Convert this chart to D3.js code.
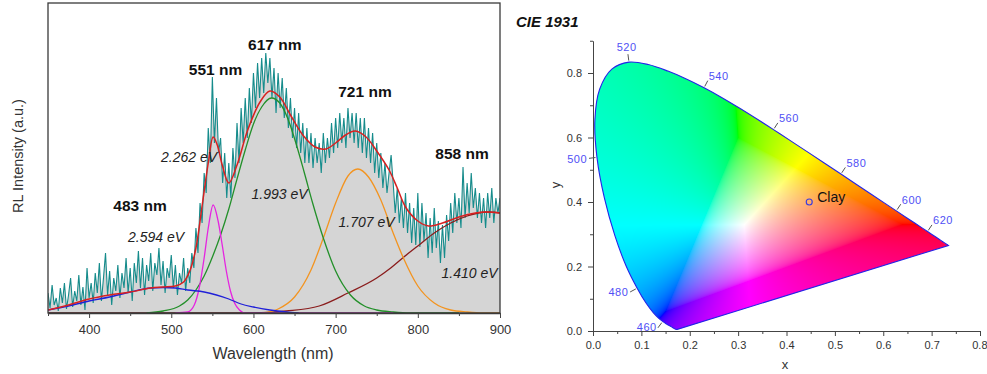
<!DOCTYPE html>
<html><head><meta charset="utf-8">
<script src="https://cdn.jsdelivr.net/npm/d3@7"></script>
<style>body{margin:0;background:#fff}svg{display:block}</style>
</head><body>
<script>
// ---------- DATA: RL spectrum ----------
const specStart = 350, specStep = 2.5;   // nm grid of the measured spectrum
const rlCounts = [
 20,5,28,8, 15,2,25,10, 30,4,18,35, 6,22,12,38, 8,26,3,45,
 15,30,10,40, 20,50,12,35, 60,18,42,8, 35,22,48,15, 40,25,55,20,
 45,12,50,30, 62,25,55,18, 48,32,60,22, 50,38,65,28, 52,20,45,35,
 58,25,48,18, 40,30,55,22, 45,30,60,45, 85,60,110,90, 140,120,185,150,
 236,170,215,160, 175,130,160,115, 150,115,165,135, 190,150,205,170, 215,175,225,190,
 240,205,250,215, 255,220,260,230, 255,215,245,200, 240,205,235,195, 225,185,215,175,
 205,165,200,160, 190,150,185,150, 180,145,175,150, 170,140,180,150, 175,155,190,160,
 195,165,200,170, 195,165,205,175, 200,170,200,165, 195,160,195,155, 185,150,180,140,
 170,135,160,125, 150,120,140,158, 130,100,125,90, 115,85,120,80, 110,70,105,68,
 120,66,110,72, 100,55,95,60, 105,65,92,50, 88,55,98,72, 110,80,120,90,
 115,85,146,95, 130,100,140,105, 125,95,120,90, 115,85,120,95, 125,90,115,100,
 115
];
const fitTotal = [[350,3],[375,8],[400,14],[425,18],[450,21],[475,25],[490,26],[505,27],[515,31],[523,43],[530,65],[538,110],[545,150],[551,176],[556,168],[562,148],[570,130],[580,148],[593,183],[608,211],[620,222],[632,216],[645,198],[660,178],[675,166],[688,164],[700,170],[712,178],[724,182],[737,176],[750,162],[765,143],[775,125],[785,106],[800,92],[813,87],[830,90],[850,96],[870,100],[883,101],[900,100]];
const fitBlue    = [[350,3],[375,7],[400,12],[425,16],[450,21],[475,25],[490,25.5],[505,25],[520,23],[540,21],[555,18],[570,14],[585,9],[600,6],[620,3],[640,1],[655,0]];
const fitMagenta = [[505,0],[520,1],[528,8],[534,25],[540,55],[545,85],[551,108],[557,92],[562,68],[567,42],[572,22],[577,10],[583,3],[590,0],[770,0]];
const fitGreen   = [[470,0],[490,2],[510,7],[520,13],[530,23],[540,37],[551,58],[560,78],[570,104],[580,134],[590,163],[600,189],[610,206],[622,215],[632,210],[642,194],[652,169],[662,140],[672,110],[685,75],[700,42],[718,18],[735,7],[750,3],[770,1],[790,0],[850,0]];
const fitOrange  = [[610,0],[630,4],[650,16],[670,43],[685,75],[700,110],[715,137],[727,144],[740,136],[755,113],[770,80],[783,54],[800,27],[820,10],[840,3],[860,1],[880,0],[900,0]];
const fitBrown   = [[350,0],[600,0],[640,2],[680,7],[715,20],[750,35],[767,45],[783,56],[800,67],[820,80],[840,90],[860,97],[885,101],[900,100]];
const peakLabels   = ["483 nm","551 nm","617 nm","721 nm","858 nm"];
const energyLabels = ["2.594 eV","2.262 eV","1.993 eV","1.707 eV","1.410 eV"];
const xTickNm = [400,500,600,700,800,900];

// ---------- DATA: CIE 1931 ----------
const locusNm = [380,385,390,395,400,405,410,415,420,425,430,435,440,445,450,455,460,465,470,475,480,485,490,495,500,505,510,515,520,525,530,535,540,545,550,555,560,565,570,575,580,585,590,595,600,605,610,615,620,625,630,635,640,645,650,655,660,665,670,680,690,700];
const locusX = [0.1741,0.1740,0.1738,0.1736,0.1733,0.1730,0.1726,0.1721,0.1714,0.1703,0.1689,0.1669,0.1644,0.1611,0.1566,0.1510,0.1440,0.1355,0.1241,0.1096,0.0913,0.0687,0.0454,0.0235,0.0082,0.0039,0.0139,0.0389,0.0743,0.1142,0.1547,0.1929,0.2296,0.2658,0.3016,0.3373,0.3731,0.4087,0.4441,0.4788,0.5125,0.5448,0.5752,0.6029,0.6270,0.6482,0.6658,0.6801,0.6915,0.7006,0.7079,0.7140,0.7190,0.7230,0.7260,0.7283,0.7300,0.7311,0.7320,0.7334,0.7344,0.7347];
const locusY = [0.0050,0.0050,0.0049,0.0049,0.0048,0.0048,0.0048,0.0048,0.0051,0.0058,0.0069,0.0086,0.0109,0.0138,0.0177,0.0227,0.0297,0.0399,0.0578,0.0868,0.1327,0.2007,0.2950,0.4127,0.5384,0.6548,0.7502,0.8120,0.8338,0.8262,0.8059,0.7816,0.7543,0.7243,0.6923,0.6589,0.6245,0.5896,0.5547,0.5202,0.4866,0.4544,0.4242,0.3965,0.3725,0.3514,0.3340,0.3197,0.3083,0.2993,0.2920,0.2859,0.2809,0.2770,0.2740,0.2717,0.2700,0.2689,0.2680,0.2666,0.2656,0.2653];
const locusLabelNm = [460,480,500,520,540,560,580,600,620];
const samplePoint = {name:"Clay", x:0.447, y:0.400};
const cieXTicks = [0,0.1,0.2,0.3,0.4,0.5,0.6,0.7,0.8];
const cieYTicks = [0,0.2,0.4,0.6,0.8];

// ---------- DRAW ----------
const W=987,H=374;
const FONT = "Arial, 'Liberation Sans', sans-serif";
const svg = d3.select("body").append("svg").attr("width",W).attr("height",H)
  .style("font-family",FONT);
svg.append("rect").attr("width",W).attr("height",H).attr("fill","#fff");

// ===== Left panel =====
const xS = d3.scaleLinear().domain([350,900]).range([48,500]);
const yS = d3.scaleLinear().domain([0,310]).range([313,3]);
const spec = rlCounts.map((v,i)=>[specStart+i*specStep, v]);

const defs = svg.append("defs");
defs.append("clipPath").attr("id","plotclip").append("rect")
  .attr("x",48).attr("y",3).attr("width",452).attr("height",310);
const g = svg.append("g").attr("clip-path","url(#plotclip)");

g.append("path").datum(spec)
  .attr("d", d3.area().x(d=>xS(d[0])).y0(yS(0)).y1(d=>yS(d[1])))
  .attr("fill","#d5d5d5");
g.append("path").datum(spec)
  .attr("d", d3.line().x(d=>xS(d[0])).y(d=>yS(d[1])))
  .attr("fill","none").attr("stroke","#168c8c").attr("stroke-width",1.1);

const smooth = d3.line().x(d=>xS(d[0])).y(d=>yS(d[1])).curve(d3.curveMonotoneX);
const comps = [
  [fitBrown,"#8a1c1c"],[fitOrange,"#f39420"],[fitGreen,"#23902a"],
  [fitMagenta,"#e524e0"],[fitBlue,"#2020d8"]
];
comps.forEach(([pts,col])=>{
  g.append("path").datum(pts).attr("d",smooth)
    .attr("fill","none").attr("stroke",col).attr("stroke-width",1.3);
});
g.append("path").datum(fitTotal)
  .attr("d", d3.line().x(d=>xS(d[0])).y(d=>yS(d[1])).curve(d3.curveCatmullRom))
  .attr("fill","none").attr("stroke","#d82020").attr("stroke-width",1.5);

// frame
svg.append("rect").attr("x",48).attr("y",3).attr("width",452).attr("height",310)
  .attr("fill","none").attr("stroke","#3a3a3a").attr("stroke-width",1.3);

// x axis
const ax = svg.append("g").attr("transform","translate(0,313)")
  .call(d3.axisBottom(xS).tickValues(xTickNm).tickSize(5).tickPadding(7).tickSizeOuter(0));
svg.append("g").attr("transform","translate(0,313)")
  .call(d3.axisBottom(xS).tickValues([350,450,550,650,750,850]).tickSize(3).tickFormat("").tickSizeOuter(0))
  .select(".domain").remove();
ax.select(".domain").attr("stroke","#3a3a3a").attr("stroke-width",1.3);
svg.selectAll(".tick line").attr("stroke","#3a3a3a");
ax.selectAll("text").attr("font-size",13).attr("fill","#333").attr("font-family",FONT);

svg.append("text").attr("x",273).attr("y",359).attr("text-anchor","middle")
  .attr("font-size",16).attr("fill","#333").text("Wavelength (nm)");
svg.append("text").attr("transform","translate(23,156) rotate(-90)").attr("text-anchor","middle")
  .attr("font-size",14.5).attr("fill","#333").text("RL Intensity (a.u.)");

// annotations (anchor in data coords: nm, counts)
const peakPos = [[462,108],[553.8,244],[626,269],[735.7,222],[853.8,160]];
const enPos   = [[481.4,76],[521.6,156],[631.7,119],[737.6,91],[862.9,40]];
peakLabels.forEach((t,i)=>{
  svg.append("text").attr("x",xS(peakPos[i][0])).attr("y",yS(peakPos[i][1])+5.5)
    .attr("text-anchor","middle").attr("font-size",15.5).attr("font-weight","bold")
    .attr("fill","#111").text(t);
});
energyLabels.forEach((t,i)=>{
  svg.append("text").attr("x",xS(enPos[i][0])).attr("y",yS(enPos[i][1])+5)
    .attr("text-anchor","middle").attr("font-size",14).attr("font-style","italic")
    .attr("fill","#222").text(t);
});

// ===== Right panel: CIE 1931 =====
const cx = d3.scaleLinear().domain([0,0.8]).range([593,980]);
const cy = d3.scaleLinear().domain([0,0.9]).range([331,40.75]);
const locus = locusNm.map((n,i)=>[locusX[i],locusY[i]]);

// colour fill rendered on a canvas, clipped to the locus
const cw = 387, ch = 291, ox = 593, oy = 40;
const canvas = document.createElement("canvas");
canvas.width = cw; canvas.height = ch;
const ctx = canvas.getContext("2d");
const img = ctx.createImageData(cw,ch);
const gam = c => c<=0.0031308 ? 12.92*c : 1.055*Math.pow(c,1/2.4)-0.055;
for (let j=0;j<ch;j++){
  const yy = cy.invert(oy+j+0.5);
  for (let i=0;i<cw;i++){
    const xx = cx.invert(ox+i+0.5);
    const k = 4*(j*cw+i);
    if (yy<=0.002){ img.data[k+3]=0; continue; }
    const X = xx/yy, Y = 1, Z = (1-xx-yy)/yy;
    let r =  3.2406*X - 1.5372*Y - 0.4986*Z;
    let gg= -0.9689*X + 1.8758*Y + 0.0415*Z;
    let b =  0.0557*X - 0.2040*Y + 1.0570*Z;
    const mn = Math.min(r,gg,b);
    if (mn<0){ r-=mn; gg-=mn; b-=mn; }
    const m = Math.max(r,gg,b)||1;
    img.data[k]  = Math.round(255*gam(r/m));
    img.data[k+1]= Math.round(255*gam(gg/m));
    img.data[k+2]= Math.round(255*gam(b/m));
    img.data[k+3]= 255;
  }
}
ctx.putImageData(img,0,0);

const locusPath = d3.line().x(d=>cx(d[0])).y(d=>cy(d[1])).curve(d3.curveCatmullRom)(locus) + "Z";
defs.append("clipPath").attr("id","cieclip").append("path").attr("d",locusPath);
svg.append("image").attr("x",ox).attr("y",oy).attr("width",cw).attr("height",ch)
  .attr("preserveAspectRatio","none")
  .attr("href",canvas.toDataURL()).attr("clip-path","url(#cieclip)");
svg.append("path").attr("d",locusPath).attr("fill","none")
  .attr("stroke","#2424e8").attr("stroke-width",1.1);

// axes
const cxAxis = svg.append("g").attr("transform","translate(0,331)")
  .call(d3.axisBottom(cx).tickValues(cieXTicks).tickFormat(d3.format(".1f")).tickSize(5).tickPadding(5).tickSizeOuter(0));
svg.append("g").attr("transform","translate(0,331)")
  .call(d3.axisBottom(cx).tickValues(d3.range(0.05,0.8,0.1)).tickSize(3).tickFormat("").tickSizeOuter(0))
  .select(".domain").remove();
const cyAxis = svg.append("g").attr("transform","translate(593,0)")
  .call(d3.axisLeft(cy).tickValues(cieYTicks).tickFormat(d3.format(".1f")).tickSize(5).tickPadding(6).tickSizeOuter(0));
svg.append("g").attr("transform","translate(593,0)")
  .call(d3.axisLeft(cy).tickValues([0.1,0.3,0.5,0.7,0.9]).tickSize(3).tickFormat("").tickSizeOuter(0))
  .select(".domain").remove();
[cxAxis,cyAxis].forEach(a=>{
  a.select(".domain").attr("stroke","#444");
  a.selectAll("text").attr("font-size",11).attr("fill","#333").attr("font-family",FONT);
});
// keep the last x label inside the window
cxAxis.selectAll(".tick").filter(d=>d===0.8).select("text").attr("text-anchor","end").attr("x",7);
svg.selectAll(".tick line").attr("stroke","#444");

svg.append("text").attr("x",785).attr("y",369).attr("text-anchor","middle")
  .attr("font-size",13).attr("fill","#333").text("x");
svg.append("text").attr("transform","translate(560,185) rotate(-90)").attr("text-anchor","middle")
  .attr("font-size",13).attr("fill","#333").text("y");
svg.append("text").attr("x",516).attr("y",27).attr("font-size",15)
  .attr("font-weight","bold").attr("font-style","italic").attr("fill","#111").text("CIE 1931");

// wavelength labels along the locus
const wp = {}; locusNm.forEach((n,i)=>wp[n]=[cx(locusX[i]),cy(locusY[i])]);
const white = [cx(0.33),cy(0.33)];
locusLabelNm.forEach(n=>{
  const p = wp[n], a = wp[n-5], b = wp[n+5];
  let tx=b[0]-a[0], ty=b[1]-a[1]; const L=Math.hypot(tx,ty); tx/=L; ty/=L;
  let nx=ty, ny=-tx;
  if ((p[0]-white[0])*nx+(p[1]-white[1])*ny<0){nx=-nx;ny=-ny;}
  svg.append("line").attr("x1",p[0]+nx*1.5).attr("y1",p[1]+ny*1.5)
    .attr("x2",p[0]+nx*8).attr("y2",p[1]+ny*8).attr("stroke","#555").attr("stroke-width",1);
  const side = Math.abs(nx)>0.4;
  const anchor = nx<-0.4?"end":(nx>0.4?"start":"middle");
  let lx = p[0]+nx*10, ly, dy;
  if (side){
    if (ny<0){ ly = p[1]+ny*10; dy = 1; }
    else { ly = p[1]+ny*6; dy = 5; }
  } else { ly = p[1]+ny*10; dy = ny<0 ? -1 : 9; }
  svg.append("text").attr("x",lx+(anchor==="middle"?-1:0)).attr("y",ly+dy).attr("text-anchor",anchor)
    .attr("font-size",11).attr("fill","#5050f5").style("letter-spacing","0.5px").text(n);
});

// sample point
svg.append("circle").attr("cx",cx(samplePoint.x)).attr("cy",cy(samplePoint.y)).attr("r",3)
  .attr("fill","none").attr("stroke","#3a3ae0").attr("stroke-width",1.1);
svg.append("text").attr("x",cx(samplePoint.x)+8).attr("y",cy(samplePoint.y)+0)
  .attr("font-size",14).attr("fill","#111").text(samplePoint.name);
</script>
</body></html>
